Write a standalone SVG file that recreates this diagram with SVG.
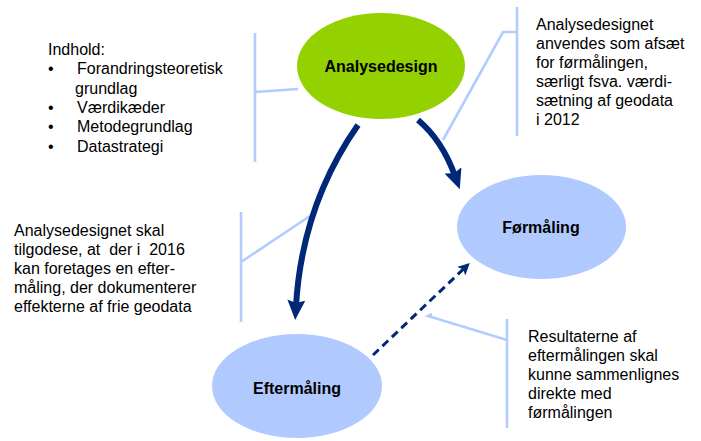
<svg xmlns="http://www.w3.org/2000/svg" width="701" height="441" viewBox="0 0 701 441">
<style>
  text { font-family: "Liberation Sans", Arial, sans-serif; fill: #000; }
  .t { font-size: 16px; }
  .n { font-size: 16px; font-weight: bold; text-anchor: middle; }
  .br { fill: none; stroke: #b3ccff; stroke-width: 2.6; }
  .arr { fill: none; stroke: #002878; stroke-width: 6; }
  .dash { fill: none; stroke: #002878; stroke-width: 3; stroke-dasharray: 8 5; }
</style>
<defs>
  <marker id="ah" viewBox="0 0 20 18" refX="6" refY="9" markerWidth="20" markerHeight="18" markerUnits="userSpaceOnUse" orient="auto">
    <path d="M0,0 L20,9 L0,18 L3,9 z" fill="#002878"/>
  </marker>
  <marker id="ahs" viewBox="0 0 12 12" refX="4" refY="6" markerWidth="12" markerHeight="12" markerUnits="userSpaceOnUse" orient="auto">
    <path d="M0,0 L12,6 L0,12 L3,6 z" fill="#002878"/>
  </marker>
</defs>
<rect width="701" height="441" fill="#fff"/>

<g id="brackets">
  <path class="br" d="M255,33 V162 M255,92 L298,89"/>
  <path class="br" d="M517,7 V136 M517,32 H503 L443,140"/>
  <path class="br" d="M241,212 V322 M241,262 L310,216"/>
  <path class="br" d="M507,319 V428 M507,340 L428,316 L432,314"/>
</g>

<g id="node-analysedesign">
  <ellipse cx="381" cy="66" rx="84" ry="53" fill="#94d100"/>
  <text class="n" x="381" y="72">Analysedesign</text>
</g>
<g id="node-formaling">
  <ellipse cx="541.5" cy="227" rx="84.5" ry="52" fill="#b0c9ff"/>
  <text class="n" x="541" y="233">Førmåling</text>
</g>
<g id="node-eftermaling">
  <ellipse cx="297" cy="386" rx="85" ry="52" fill="#b0c9ff"/>
  <text class="n" x="297" y="394">Eftermåling</text>
</g>

<g id="connectors">
  <path class="arr" d="M358,125 Q302,205 296,306" marker-end="url(#ah)"/>
  <path class="arr" d="M418,120 Q442,140 455,176" marker-end="url(#ah)"/>
  <path class="dash" d="M373,355 L464,268.5" marker-end="url(#ahs)"/>
</g>

<g id="text-indhold">
  <text class="t" x="48" y="55">Indhold:</text>
  <text class="t" x="48" y="74.3">•</text>
  <text class="t" x="77" y="74.3">Forandringsteoretisk</text>
  <text class="t" x="75" y="93.6">grundlag</text>
  <text class="t" x="48" y="112.9">•</text>
  <text class="t" x="77" y="112.9">Værdikæder</text>
  <text class="t" x="48" y="132.2">•</text>
  <text class="t" x="77" y="132.2">Metodegrundlag</text>
  <text class="t" x="48" y="151.5">•</text>
  <text class="t" x="77" y="151.5">Datastrategi</text>
</g>

<g id="text-analysedesignet">
  <text class="t" x="536" y="30">Analysedesignet</text>
  <text class="t" x="536" y="49">anvendes som afsæt</text>
  <text class="t" x="536" y="68">for førmålingen,</text>
  <text class="t" x="536" y="87">særligt fsva. værdi-</text>
  <text class="t" x="536" y="106">sætning af geodata</text>
  <text class="t" x="536" y="125">i 2012</text>
</g>

<g id="text-skal">
  <text class="t" x="14" y="236">Analysedesignet skal</text>
  <text class="t" x="14" y="255" xml:space="preserve">tilgodese, at  der i  2016</text>
  <text class="t" x="14" y="274">kan foretages en efter-</text>
  <text class="t" x="14" y="293">måling, der dokumenterer</text>
  <text class="t" x="14" y="312">effekterne af frie geodata</text>
</g>

<g id="text-resultaterne">
  <text class="t" x="528" y="342">Resultaterne af</text>
  <text class="t" x="528" y="361">eftermålingen skal</text>
  <text class="t" x="528" y="380">kunne sammenlignes</text>
  <text class="t" x="528" y="399">direkte med</text>
  <text class="t" x="528" y="418">førmålingen</text>
</g>
</svg>
